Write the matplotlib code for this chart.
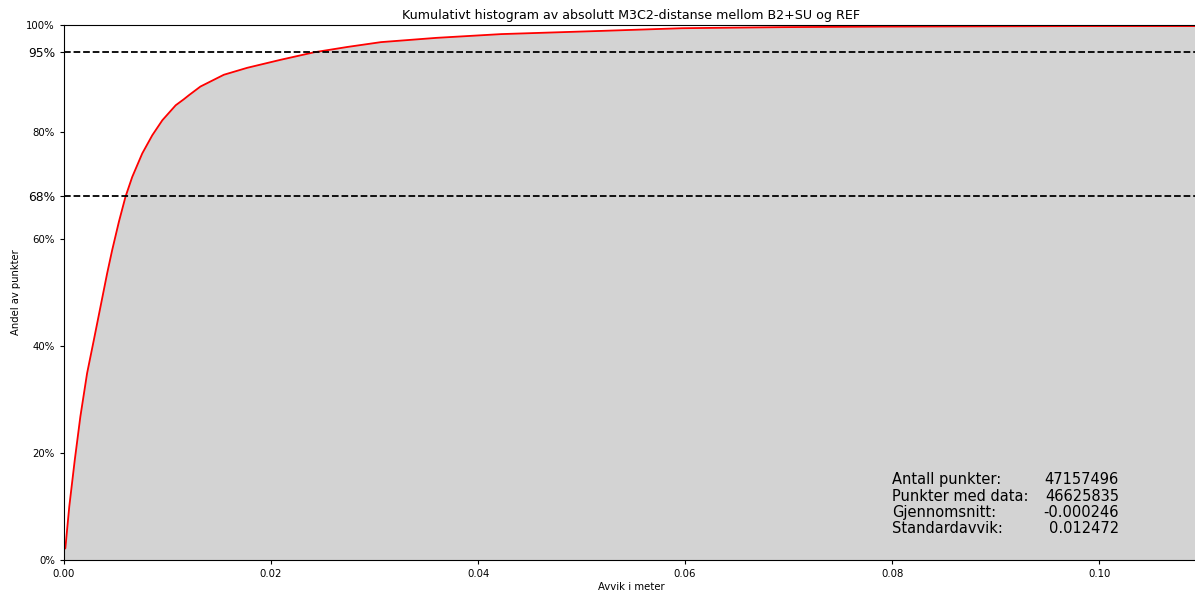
import numpy as np
import matplotlib
matplotlib.use("Agg")
import matplotlib.pyplot as plt
from matplotlib.ticker import PercentFormatter

# kumulativ andel av punkter mot absolutt avvik (m)
avvik = [0.0, 0.00013, 0.00051, 0.00104, 0.00158, 0.00223, 0.00288, 0.00352,
         0.00417, 0.00465, 0.0053, 0.00594, 0.00659, 0.00756, 0.00853,
         0.0095, 0.01079, 0.01156, 0.01208, 0.01318, 0.01544, 0.0177, 0.02093,
         0.02416, 0.02739, 0.03062, 0.036, 0.04225, 0.05194, 0.0597, 0.0694,
         0.079, 0.0984, 0.1096]
andel = [0.02, 0.022, 0.100, 0.187, 0.268, 0.349, 0.411, 0.473,
         0.536, 0.579, 0.632, 0.679, 0.716, 0.760, 0.794,
         0.822, 0.850, 0.861, 0.869, 0.885, 0.907, 0.920, 0.935,
         0.949, 0.959, 0.968, 0.976, 0.983, 0.989, 0.994, 0.996,
         0.997, 0.998, 0.998]

grenser = [0.68, 0.95]
yticks = [0.0, 0.2, 0.4, 0.6, 0.68, 0.8, 0.95, 1.0]

stat_navn = ["Antall punkter:", "Punkter med data:", "Gjennomsnitt:", "Standardavvik:"]
stat_verdi = ["47157496", "46625835", "-0.000246", "0.012472"]

fig = plt.figure(figsize=(11.95, 5.95), dpi=100)
ax = fig.add_axes([64 / 1195, 35 / 595, 1.003 - 64 / 1195, 535 / 595])

ax.fill_between(avvik, andel, 0, color="lightgray")
ax.plot(avvik, andel, color="red", lw=1.3)
for g in grenser:
    ax.axhline(g, color="black", ls="--", lw=1.3)

ax.set_xlim(0, 0.1096)
ax.set_ylim(0, 1)
ax.set_yticks(yticks)
ax.yaxis.set_major_formatter(PercentFormatter(1.0, decimals=0))
ax.set_xticks([0.0, 0.02, 0.04, 0.06, 0.08, 0.10])
ax.tick_params(labelsize=7.3, length=3)
for lbl, v in zip(ax.get_yticklabels(), yticks):
    if v in grenser:
        lbl.set_fontsize(8.8)

ax.set_title("Kumulativt histogram av absolutt M3C2-distanse mellom B2+SU og REF",
             fontsize=9.1, pad=4)
ax.set_xlabel("Avvik i meter", fontsize=7.3, labelpad=2)
ax.set_ylabel("Andel av punkter", fontsize=7.2, labelpad=4)

ax.text(0.08, 0.045, "\n".join(stat_navn), fontsize=10.5, ha="left", va="bottom",
        linespacing=1.1)
ax.text(0.1019, 0.045, "\n".join(stat_verdi), fontsize=10.5, ha="right", va="bottom",
        linespacing=1.1)

fig.savefig("out.png", dpi=100)
